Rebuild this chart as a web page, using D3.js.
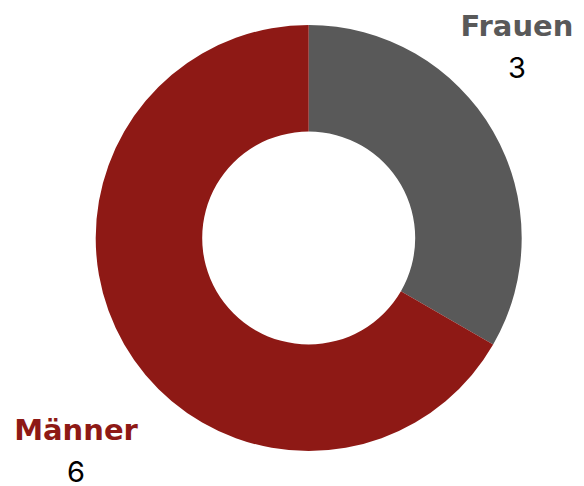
<!DOCTYPE html>
<html>
<head>
<meta charset="utf-8">
<script src="https://cdn.jsdelivr.net/npm/d3@7"></script>
<style>
  html, body { margin: 0; padding: 0; background: #fff; }
  svg { display: block; }
</style>
</head>
<body>
<div id="chart"></div>
<script>
// data
var categories = ["Frauen", "Männer"];
var values = [3, 6];
var colors = ["#595959", "#8e1915"];

var width = 584, height = 486;
var cx = 308.7, cy = 238,
    outerR = 213, innerR = 106.5;

// label spots (name baseline, value drawn below)
var labelPos = [
  { x: 517, y: 36 },
  { x: 76, y: 440 }
];
var valueGap = 42;

var data = categories.map(function(c, i){ return { name: c, value: values[i], color: colors[i] }; });

var svg = d3.select("#chart").append("svg")
  .attr("width", width)
  .attr("height", height);

var g = svg.append("g")
  .attr("transform", "translate(" + cx + "," + cy + ")");

var pie = d3.pie()
  .sort(null)
  .value(function(d){ return d.value; });

var arc = d3.arc()
  .innerRadius(innerR)
  .outerRadius(outerR);

g.selectAll("path")
  .data(pie(data))
  .enter()
  .append("path")
  .attr("d", arc)
  .attr("fill", function(d){ return d.data.color; });

var labels = svg.append("g")
  .selectAll("g")
  .data(data)
  .enter()
  .append("g")
  .attr("transform", function(d, i){ return "translate(" + labelPos[i].x + "," + labelPos[i].y + ")"; });

labels.append("text")
  .attr("text-anchor", "middle")
  .attr("font-family", "'DejaVu Sans', sans-serif")
  .attr("font-weight", 700)
  .attr("font-size", 29)
  .attr("fill", function(d){ return d.color; })
  .text(function(d){ return d.name; });

labels.append("text")
  .attr("y", valueGap)
  .attr("text-anchor", "middle")
  .attr("font-family", "Inter, 'Open Sans', sans-serif")
  .attr("font-size", 29)
  .attr("fill", "#000")
  .text(function(d){ return d.value; });
</script>
</body>
</html>
